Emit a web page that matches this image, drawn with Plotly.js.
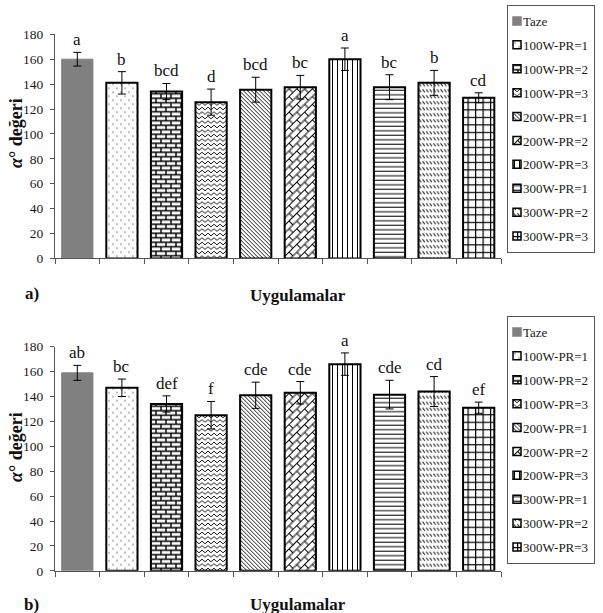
<!DOCTYPE html>
<html><head><meta charset="utf-8">
<script src="https://cdn.plot.ly/plotly-3.0.1.min.js"></script>
<style>html,body{margin:0;padding:0;background:#fff}</style>
</head><body>
<div id="chart" style="width:603px;height:613px"></div>
<svg width="0" height="0" style="position:absolute;left:0;top:0">
<defs>
<pattern id="pDots" patternUnits="userSpaceOnUse" width="8" height="8"><rect width="8" height="8" fill="#fff"/><circle cx="2" cy="2" r="0.7" fill="#555"/><circle cx="6" cy="6" r="0.7" fill="#555"/></pattern>
<pattern id="pBricks" patternUnits="userSpaceOnUse" width="10" height="9"><rect width="10" height="9" fill="#fff"/><path d="M0,1H10M0,5.5H10M1,1V5.5M6,5.5V9M6,0V1" stroke="#000" stroke-width="1.4" fill="none"/></pattern>
<pattern id="pZig" patternUnits="userSpaceOnUse" width="6" height="4.5"><rect width="6" height="4.5" fill="#fff"/><path d="M0,3.5L3,1L6,3.5" stroke="#000" stroke-width="0.9" fill="none"/></pattern>
<pattern id="pDiag" patternUnits="userSpaceOnUse" width="4" height="4"><rect width="4" height="4" fill="#fff"/><path d="M-1,-1L5,5M-1,3L1,5M3,-1L5,1" stroke="#000" stroke-width="0.9" fill="none"/></pattern>
<pattern id="pHerring" patternUnits="userSpaceOnUse" width="11" height="11" patternTransform="rotate(-45)"><rect width="11" height="11" fill="#fff"/><path d="M0,0.5H11M0,6H11M0.5,0.5V6M6,6V11" stroke="#000" stroke-width="1" fill="none"/></pattern>
<pattern id="pVert" patternUnits="userSpaceOnUse" width="5" height="5"><rect width="5" height="5" fill="#fff"/><path d="M2.5,0V5" stroke="#000" stroke-width="1" fill="none"/></pattern>
<pattern id="pHoriz" patternUnits="userSpaceOnUse" width="5" height="4.5"><rect width="5" height="4.5" fill="#fff"/><path d="M0,2H5" stroke="#000" stroke-width="1" fill="none"/></pattern>
<pattern id="pDash" patternUnits="userSpaceOnUse" width="3.6" height="6"><rect width="3.6" height="6" fill="#fff"/><path d="M0.4,1L2.6,4" stroke="#000" stroke-width="1" fill="none"/></pattern>
<pattern id="pGrid" patternUnits="userSpaceOnUse" width="7.5" height="7.5"><rect width="7.5" height="7.5" fill="#fff"/><path d="M0,0.6H7.5M0.6,0V7.5" stroke="#000" stroke-width="1.2" fill="none"/></pattern>
</defs>
</svg>
<script>
// ---- data ----
const categories = ['Taze','100W-PR=1','100W-PR=2','100W-PR=3','200W-PR=1','200W-PR=2','200W-PR=3','300W-PR=1','300W-PR=2','300W-PR=3'];
const valuesA = [160, 141, 134, 125.5, 135.5, 137.5, 160, 137.5, 141, 129];
const errorsA = [5.5, 9, 6.5, 10.5, 10, 9.5, 9, 10, 10, 4];
const lettersA = ['a','b','bcd','d','bcd','bc','a','bc','b','cd'];
const valuesB = [159, 147, 134, 125, 141, 143, 166, 141.5, 144, 131];
const errorsB = [6, 7, 6.5, 11, 10.5, 9, 9, 11.5, 12, 4.5];
const lettersB = ['ab','bc','def','f','cde','cde','a','cde','cd','ef'];
const yTicks = [0, 20, 40, 60, 80, 100, 120, 140, 160, 180];
const panelLabels = ['a)', 'b)'];
const xTitle = 'Uygulamalar';
const yTitle = '<b><i>α</i>° değeri</b>';

// ---- styles ----
const fills = [null, 'pDots', 'pBricks', 'pZig', 'pDiag', 'pHerring', 'pVert', 'pHoriz', 'pDash', 'pGrid'];
const FONT = '"Liberation Serif", serif';

const panels = [
  {vals: valuesA, errs: errorsA, letters: lettersA, xa: 'x', ya: 'y', lg: 'legend', tag: 'a'},
  {vals: valuesB, errs: errorsB, letters: lettersB, xa: 'x2', ya: 'y2', lg: 'legend2', tag: 'b'}
];

const data = [];
const annotations = [];
panels.forEach((p, pi) => {
  categories.forEach((c, i) => {
    const solid = fills[i] === null;
    data.push({
      type: 'bar', x: [c], y: [p.vals[i]], name: c,
      xaxis: p.xa, yaxis: p.ya, legend: p.lg, legendgroup: p.tag + i,
      meta: fills[i] || 'solid',
      error_y: {type: 'data', array: [p.errs[i]], color: '#000', thickness: 1, width: 4},
      marker: {color: solid ? '#808080' : '#ffffff', line: {color: solid ? '#808080' : '#000', width: solid ? 1 : 2}},
      hoverinfo: 'skip'
    });
    annotations.push({
      x: c, y: p.vals[i] + p.errs[i], xref: p.xa, yref: p.ya,
      text: p.letters[i], showarrow: false, yanchor: 'bottom', yshift: 1,
      font: {family: FONT, size: 17, color: '#111'}
    });
  });
});

const paperAnn = [
  {text: '<b>' + panelLabels[0] + '</b>', x: 32/603, y: 1 - 294/613},
  {text: '<b>' + panelLabels[1] + '</b>', x: 31/603, y: 1 - 604/613},
  {text: '<b>' + xTitle + '</b>', x: 298/603, y: 1 - 295/613},
  {text: '<b>' + xTitle + '</b>', x: 298/603, y: 1 - 604/613},
];
paperAnn.forEach(a => annotations.push(Object.assign({xref: 'paper', yref: 'paper', showarrow: false, xanchor: 'center', yanchor: 'middle', font: {family: FONT, size: 17, color: '#111'}}, a)));
[133, 447].forEach(yc => annotations.push({xref: 'paper', yref: 'paper', x: 16/603, y: 1 - yc/613, text: yTitle, textangle: -90, showarrow: false, xanchor: 'center', yanchor: 'middle', font: {family: FONT, size: 18, color: '#111'}}));

const xax = {
  type: 'category', categoryorder: 'array', categoryarray: categories,
  range: [-0.5, 9.5], showticklabels: false, ticks: 'outside', tickson: 'boundaries',
  ticklen: 5, tickcolor: '#555', showline: true, linecolor: '#555', linewidth: 1,
  showgrid: false, zeroline: false, fixedrange: true, domain: [55/603, 501/603]
};
const yax = {
  range: [0, 180], tickvals: yTicks, ticks: 'outside', ticklen: 4, tickcolor: '#555',
  showline: true, linecolor: '#555', linewidth: 1, showgrid: false, zeroline: false,
  ticklabelstandoff: 4,
  tickfont: {family: FONT, size: 13.5, color: '#1a1a1a'}, fixedrange: true
};
const legendBase = {
  xanchor: 'left', yanchor: 'top', x: 507/603, bgcolor: '#fff', bordercolor: '#555', borderwidth: 1,
  font: {family: FONT, size: 13, color: '#1a1a1a'}, tracegroupgap: 4, itemclick: false, itemdoubleclick: false
};

const layout = {
  width: 603, height: 613,
  margin: {l: 0, r: 0, t: 0, b: 0, autoexpand: false},
  paper_bgcolor: '#fff', plot_bgcolor: '#fff',
  font: {family: FONT},
  barmode: 'overlay', bargap: 0.3,
  xaxis: Object.assign({}, xax, {anchor: 'y'}),
  xaxis2: Object.assign({}, xax, {anchor: 'y2'}),
  yaxis: Object.assign({}, yax, {anchor: 'x', domain: [1 - 258.4/613, 1 - 34.3/613]}),
  yaxis2: Object.assign({}, yax, {anchor: 'x2', domain: [1 - 570.8/613, 1 - 346.7/613]}),
  legend: Object.assign({}, legendBase, {y: 1 - 5/613}),
  legend2: Object.assign({}, legendBase, {y: 1 - 316/613}),
  annotations: annotations,
  showlegend: true
};

function setAttr(el, k, v) { if (el.getAttribute(k) !== String(v)) el.setAttribute(k, v); }
function setFill(el, v) { if (el.style.fill !== v && el.style.fill !== v.replace(/#(\w+)/, '"#$1"')) el.style.fill = v; }

function post() {
  const gd = document.getElementById('chart');
  gd.querySelectorAll('.barlayer .trace').forEach(tr => {
    const cd = tr.__data__;
    const key = cd && cd[0] && cd[0].trace && cd[0].trace.meta;
    if (key && key !== 'solid') tr.querySelectorAll('.point path').forEach(pth => setFill(pth, 'url(#' + key + ')'));
  });
  gd.querySelectorAll('.infolayer > g').forEach(lg => {
    const cls = lg.getAttribute('class') || '';
    if (!/^legend\d*$/.test(cls)) return;
    lg.querySelectorAll('g.traces').forEach(tr => {
      const d = tr.__data__;
      const key = d && d[0] && d[0].trace && d[0].trace.meta;
      tr.querySelectorAll('text').forEach(txt => setAttr(txt, 'x', 15));
      tr.querySelectorAll('g[class$="points"] path').forEach(pth => {
        setAttr(pth, 'd', 'M4,4H-4V-4H4Z');
        setAttr(pth, 'transform', 'translate(9,0)');
        if (pth.style.strokeWidth !== '1.5px') pth.style.strokeWidth = '1.5px';
        if (key && key !== 'solid') setFill(pth, 'url(#' + key + ')');
      });
    });
    lg.querySelectorAll(':scope > rect.bg').forEach(bg => setAttr(bg, 'width', 87));
  });
}

let busy = false;
const obs = new MutationObserver(() => {
  if (busy) return;
  busy = true;
  try { post(); } finally { obs.takeRecords(); busy = false; }
});
obs.observe(document.getElementById('chart'), {subtree: true, childList: true, attributes: true});

Plotly.newPlot('chart', data, layout, {staticPlot: true, displayModeBar: false}).then(gd => {
  post();
  [0, 50, 150, 400, 1000].forEach(t => setTimeout(post, t));
  gd.on && gd.on('plotly_afterplot', post);
});
</script>
</body></html>
